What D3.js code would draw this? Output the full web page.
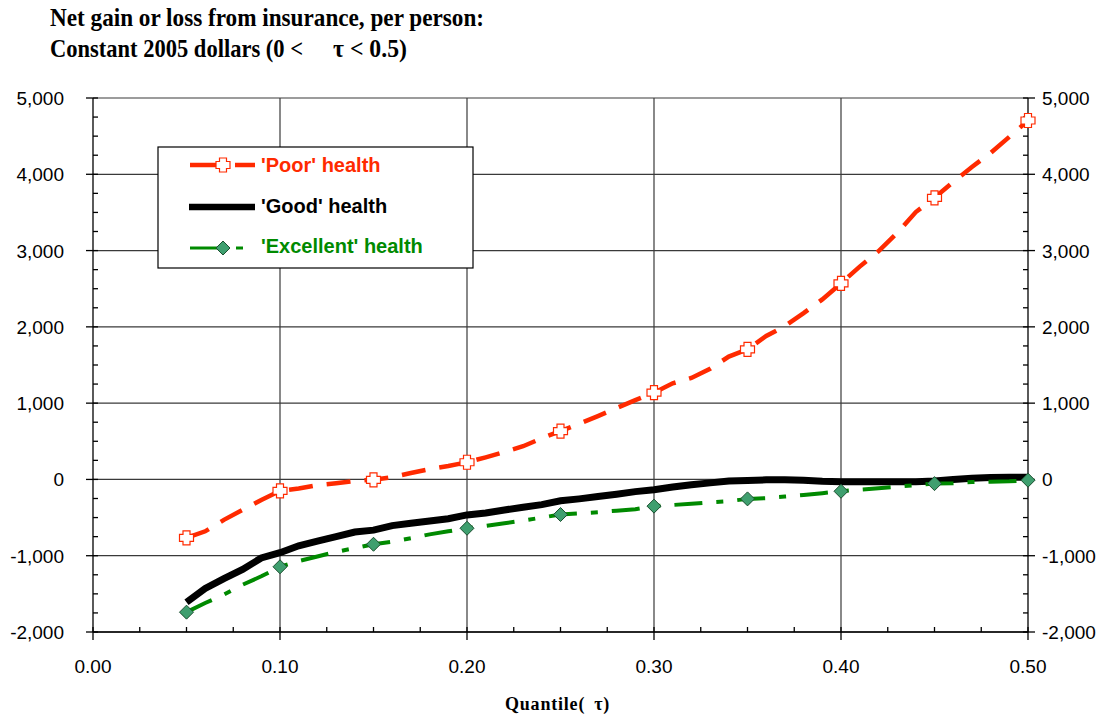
<!DOCTYPE html>
<html>
<head>
<meta charset="utf-8">
<script src="https://d3js.org/d3.v7.min.js"></script>
<style>
  body { margin: 0; background: #fff; }
  svg { display: block; }
  .ttl { font-family: "Liberation Serif", "Times New Roman", serif; font-weight: bold; font-size: 25px; }
  .tick-label { font-family: "Liberation Sans", Arial, sans-serif; font-size: 19px; fill: #000; }
  .leg { font-family: "Liberation Sans", Arial, sans-serif; font-size: 20px; font-weight: bold; }
</style>
</head>
<body>
<div id="vis"></div>
<script>
// values, quantile steps of 0.01
const quantiles = [0.05, 0.06, 0.07, 0.08, 0.09, 0.10, 0.11, 0.12, 0.13, 0.14,
  0.15, 0.16, 0.17, 0.18, 0.19, 0.20, 0.21, 0.22, 0.23, 0.24,
  0.25, 0.26, 0.27, 0.28, 0.29, 0.30, 0.31, 0.32, 0.33, 0.34,
  0.35, 0.36, 0.37, 0.38, 0.39, 0.40, 0.41, 0.42, 0.43, 0.44,
  0.45, 0.46, 0.47, 0.48, 0.49, 0.50]

const poor = [-765, -680, -530, -400, -270, -150, -120, -75, -50, -20,
  -5, 30, 85, 135, 175, 225, 290, 360, 435, 540,
  634, 730, 830, 935, 1040, 1137, 1260, 1330, 1450, 1610,
  1705, 1880, 2010, 2180, 2360, 2570, 2790, 2990, 3230, 3505,
  3692, 3900, 4095, 4280, 4490, 4705]

const good = [-1610, -1430, -1300, -1180, -1030, -960, -870, -810, -750, -690,
  -665, -605, -575, -545, -515, -465, -440, -400, -365, -330,
  -280, -255, -225, -195, -160, -135, -100, -70, -45, -20,
  -15, -5, -5, -10, -25, -30, -30, -30, -30, -30,
  -20, 0, 15, 25, 30, 30]

const excellent = [-1740, -1620, -1510, -1380, -1270, -1145, -1070, -1010, -950, -900,
  -850, -815, -770, -720, -680, -640, -610, -575, -540, -500,
  -460, -445, -430, -410, -390, -350, -335, -320, -300, -285,
  -255, -245, -225, -205, -180, -155, -135, -115, -95, -75,
  -55, -50, -35, -30, -25, -10]

const yTicks = [-2000, -1000, 0, 1000, 2000, 3000, 4000, 5000]
const xTicks = [0, 0.1, 0.2, 0.3, 0.4, 0.5]
const seriesNames = ["'Poor' health", "'Good' health", "'Excellent' health"]

const W = 1100, H = 715
const red = '#ff2a00', green = '#008a00'

const svg = d3.select('#vis').append('svg').attr('width', W).attr('height', H)

const x = d3.scaleLinear().domain([0, 0.5]).range([93, 1028])
const y = d3.scaleLinear().domain([-2000, 5000]).range([632, 98])

// title (the original is set in a narrow bold serif)
svg.append('text').attr('class', 'ttl').attr('x', 50).attr('y', 26)
  .attr('textLength', 434).attr('lengthAdjust', 'spacingAndGlyphs')
  .text('Net gain or loss from insurance, per person:')
svg.append('text').attr('class', 'ttl').attr('x', 50).attr('y', 57)
  .attr('textLength', 253).attr('lengthAdjust', 'spacingAndGlyphs')
  .text('Constant 2005 dollars (0 <')
svg.append('text').attr('class', 'ttl').attr('x', 333).attr('y', 57)
  .attr('textLength', 74).attr('lengthAdjust', 'spacingAndGlyphs')
  .text('τ < 0.5)')

// grid
const g = svg.append('g')
g.selectAll('.hg').data(yTicks).join('line')
  .attr('x1', x(0)).attr('x2', x(0.5))
  .attr('y1', d => y(d)).attr('y2', d => y(d))
  .attr('stroke', '#3a3a3a').attr('stroke-width', 1.2)
g.selectAll('.vg').data(xTicks.slice(1, -1)).join('line')
  .attr('x1', d => x(d)).attr('x2', d => x(d))
  .attr('y1', y(5000)).attr('y2', y(-2000))
  .attr('stroke', '#3a3a3a').attr('stroke-width', 1.2)

// axes lines
const ax = svg.append('g').attr('stroke', '#000').attr('stroke-width', 1.3)
ax.append('line').attr('x1', x(0)).attr('x2', x(0)).attr('y1', y(5000)).attr('y2', y(-2000))
ax.append('line').attr('x1', x(0.5)).attr('x2', x(0.5)).attr('y1', y(5000)).attr('y2', y(-2000))
ax.append('line').attr('x1', x(0)).attr('x2', x(0.5)).attr('y1', y(-2000)).attr('y2', y(-2000))

const yMinor = d3.range(-2000, 5001, 250)
const xMinor = d3.range(0, 0.5001, 0.025)

// minor ticks (inside)
ax.selectAll('.ylm').data(yMinor).join('line')
  .attr('x1', x(0)).attr('x2', x(0) + 5).attr('y1', d => y(d)).attr('y2', d => y(d))
ax.selectAll('.yrm').data(yMinor).join('line')
  .attr('x1', x(0.5) - 5).attr('x2', x(0.5)).attr('y1', d => y(d)).attr('y2', d => y(d))
ax.selectAll('.xm').data(xMinor).join('line')
  .attr('x1', d => x(d)).attr('x2', d => x(d)).attr('y1', y(-2000) - 5).attr('y2', y(-2000))
// major ticks (outside)
ax.selectAll('.ylM').data(yTicks).join('line')
  .attr('x1', x(0) - 7).attr('x2', x(0)).attr('y1', d => y(d)).attr('y2', d => y(d))
ax.selectAll('.yrM').data(yTicks).join('line')
  .attr('x1', x(0.5)).attr('x2', x(0.5) + 7).attr('y1', d => y(d)).attr('y2', d => y(d))
ax.selectAll('.xM').data(xTicks).join('line')
  .attr('x1', d => x(d)).attr('x2', d => x(d)).attr('y1', y(-2000)).attr('y2', y(-2000) + 8)

const fmt = d => d3.format(',')(d).replace('−', '-')
svg.selectAll('.yl').data(yTicks).join('text').attr('class', 'tick-label')
  .attr('x', 64).attr('y', d => y(d) + 7).attr('text-anchor', 'end').text(fmt)
svg.selectAll('.yr').data(yTicks).join('text').attr('class', 'tick-label')
  .attr('x', 1042).attr('y', d => y(d) + 7).attr('text-anchor', 'start').text(fmt)
svg.selectAll('.xl').data(xTicks).join('text').attr('class', 'tick-label')
  .attr('x', d => x(d)).attr('y', 673).attr('text-anchor', 'middle').text(d => d3.format('.2f')(d))

const xt = svg.append('text').attr('class', 'ttl').style('font-size', '18px')
  .attr('x', 505).attr('y', 710).attr('letter-spacing', '0.8px')
xt.append('tspan').text('Quantile(')
xt.append('tspan').attr('dx', 9).text('τ)')

// lines
const line = d3.line().x(d => x(d[0])).y(d => y(d[1]))
const pts = arr => quantiles.map((q, i) => [q, arr[i]])

svg.append('path').datum(pts(good)).attr('d', line)
  .attr('fill', 'none').attr('stroke', '#000').attr('stroke-width', 7)
svg.append('path').datum(pts(excellent)).attr('d', line)
  .attr('fill', 'none').attr('stroke', green).attr('stroke-width', 4)
  .attr('stroke-dasharray', '28,14,7,14')
svg.append('path').datum(pts(poor)).attr('d', line)
  .attr('fill', 'none').attr('stroke', red).attr('stroke-width', 4.5)
  .attr('stroke-dasharray', '24,14')

// marker shapes
const crossPath = 'M-3.5,-7H3.5V-3.5H7V3.5H3.5V7H-3.5V3.5H-7V-3.5H-3.5Z'
const diamondPath = 'M0,-7L7,0L0,7L-7,0Z'

const every5 = (arr) => pts(arr).filter((d, i) => i % 5 === 0)

svg.selectAll('.pm').data(every5(poor)).join('path')
  .attr('d', crossPath).attr('transform', d => `translate(${x(d[0])},${y(d[1])})`)
  .attr('fill', '#fff').attr('stroke', red).attr('stroke-width', 1.2)
svg.selectAll('.em').data(every5(excellent)).join('path')
  .attr('d', diamondPath).attr('transform', d => `translate(${x(d[0])},${y(d[1])})`)
  .attr('fill', '#3f9f6f').attr('stroke', '#1b4f2f').attr('stroke-width', 1)

// legend
const lg = svg.append('g')
lg.append('rect').attr('x', 158).attr('y', 147).attr('width', 315).attr('height', 121)
  .attr('fill', '#fff').attr('stroke', '#000').attr('stroke-width', 1.2)

lg.append('line').attr('x1', 190).attr('x2', 218).attr('y1', 165).attr('y2', 165)
  .attr('stroke', red).attr('stroke-width', 4.5)
lg.append('line').attr('x1', 235).attr('x2', 255).attr('y1', 165).attr('y2', 165)
  .attr('stroke', red).attr('stroke-width', 4.5)
lg.append('path').attr('d', crossPath).attr('transform', 'translate(223,165)')
  .attr('fill', '#fff').attr('stroke', red).attr('stroke-width', 1.2)

lg.append('line').attr('x1', 189).attr('x2', 255).attr('y1', 207).attr('y2', 207)
  .attr('stroke', '#000').attr('stroke-width', 6.5)

lg.append('line').attr('x1', 190).attr('x2', 218).attr('y1', 248).attr('y2', 248)
  .attr('stroke', green).attr('stroke-width', 3)
lg.append('line').attr('x1', 236).attr('x2', 243).attr('y1', 248).attr('y2', 248)
  .attr('stroke', green).attr('stroke-width', 3)
lg.append('path').attr('d', diamondPath).attr('transform', 'translate(223,248)')
  .attr('fill', '#3f9f6f').attr('stroke', '#1b4f2f').attr('stroke-width', 1)

const legColors = [red, '#000', green]
const legY = [172, 213, 253]
lg.selectAll('.lt').data(seriesNames).join('text').attr('class', 'leg')
  .attr('x', 261).attr('y', (d, i) => legY[i])
  .attr('fill', (d, i) => legColors[i]).text(d => d)
</script>
</body>
</html>
